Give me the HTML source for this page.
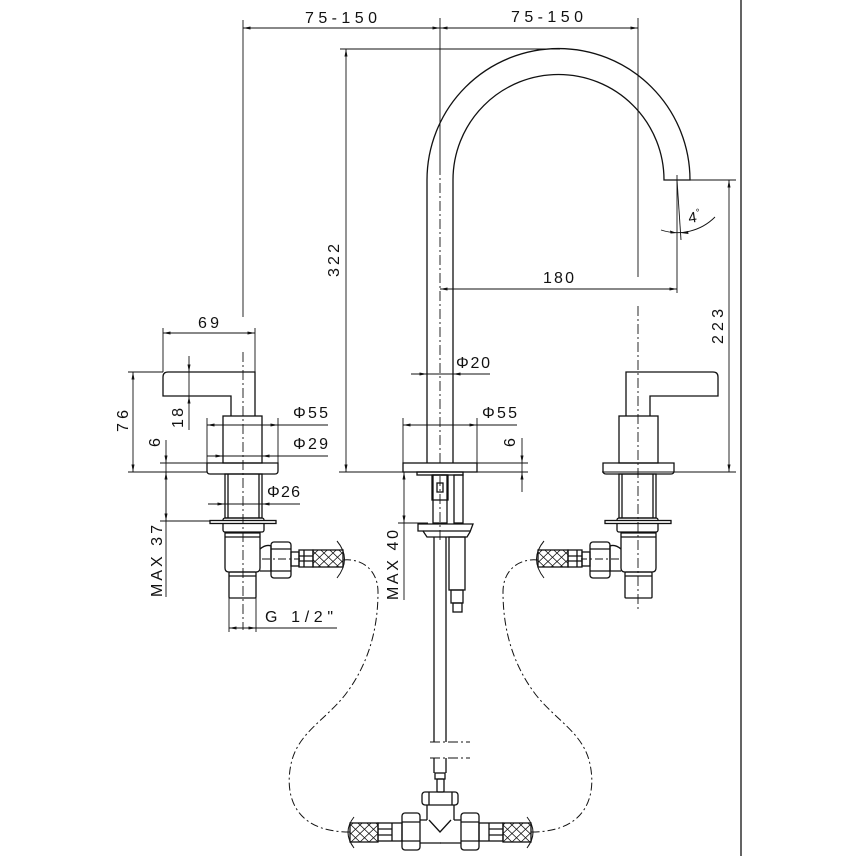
<!DOCTYPE html>
<html><head><meta charset="utf-8"><style>html,body{margin:0;padding:0;background:#fff;}svg{display:block;}text{font-family:"Liberation Sans",Arial,sans-serif;font-size:16px;fill:#111;}</style></head>
<body>
<svg width="856" height="856" viewBox="0 0 856 856" xmlns="http://www.w3.org/2000/svg">
<defs>
<marker id="ar" viewBox="0 0 10 4" refX="10" refY="2" markerWidth="8" markerHeight="3" markerUnits="userSpaceOnUse" orient="auto-start-reverse"><path d="M0,0L10,2L0,4z" fill="#111"/></marker>
<pattern id="xh" width="9" height="8.5" patternUnits="userSpaceOnUse" x="0" y="0.5"><path d="M0,0L9,8.5M9,0L0,8.5" stroke="#111" stroke-width="0.8" fill="none"/></pattern>
<g id="fix" fill="none" stroke="#111" stroke-width="1.3">
  <path d="M255,416 L255,372 L168,372 Q163,372 163,377 L163,396 L231,396 L231,416"/>
  <rect x="223" y="416" width="39" height="47"/>
  <path d="M207,463 L278,463 L278,471 Q278,474 275,474 L210,474 Q207,474 207,471 Z"/>
  <rect x="225" y="474" width="37" height="44"/>
  <path d="M228,474 L228,518 M259,474 L259,518"/>
  <rect x="223" y="518" width="41" height="14" rx="2"/>
  <rect x="210" y="520.5" width="66" height="3" fill="#fff"/>
  <path d="M225,533 L260,533 L260,568 Q260,572 256,572 L229,572 Q225,572 225,568 Z"/>
  <path d="M225,537 L260,537"/>
  <rect x="229" y="572" width="27" height="26" rx="1"/>
  <path d="M229,576 L256,576"/>
  <path d="M260,549 Q266,544 271,546 L271,571 L260,571"/>
  <rect x="271" y="542" width="20" height="36" rx="3"/>
  <path d="M271,549 L291,549 M271,571 L291,571"/>
  <rect x="291" y="552" width="8" height="14"/>
  <rect x="299" y="550" width="14" height="17"/>
  <path d="M299,556 L313,556 M299,561 L313,561 M304,550 L304,567"/>
  <rect x="313" y="550" width="30" height="17" fill="url(#xh)"/>
  <path d="M337,541 Q352,559 337,578" stroke-width="1"/>
  <path d="M262,559 L300,559" stroke-width="0.9" stroke-dasharray="8 3 2 3"/>
</g>
<g id="tee" fill="none" stroke="#111" stroke-width="1.3">
  <rect x="402" y="813" width="18" height="37" rx="3"/>
  <path d="M402,822 L420,822 M402,841 L420,841"/>
  <rect x="378" y="823" width="24" height="18"/>
  <path d="M392,823 L392,841 M378,829 L392,829 M378,835 L392,835"/>
  <rect x="350" y="823" width="28" height="19" fill="url(#xh)"/>
  <path d="M354,817 Q342,832 354,848" stroke-width="1"/>
  <path d="M420,820 L427,820 M420,843 L441,843"/>
</g>
<path id="loop" d="M343,560 C362,558 378,570 378,592 C378,630 368,665 345,695 C325,720 300,732 292,760 C284,790 290,832 350,832" fill="none" stroke="#111" stroke-width="1" stroke-dasharray="8 3 2 3"/>
</defs>

<line x1="741" y1="0" x2="741" y2="856" stroke="#111" stroke-width="1.3"/>

<use href="#fix"/>
<use href="#fix" transform="translate(881,0) scale(-1,1)"/>
<use href="#tee"/>
<use href="#tee" transform="translate(881,0) scale(-1,1)"/>
<use href="#loop"/>
<use href="#loop" transform="translate(881,0) scale(-1,1)"/>

<g fill="none" stroke="#111" stroke-width="1.3">
  <path d="M427,463 L427,180 A131.5,131.5 0 0 1 690,180 L664,180 A105.5,105.5 0 0 0 453,180 L453,463"/>
  <rect x="403" y="463" width="74" height="9"/>
  <rect x="417" y="472" width="46" height="3"/>
  <rect x="433" y="475" width="14" height="48"/>
  <rect x="432" y="475" width="16" height="25"/>
  <rect x="437" y="483" width="6" height="9"/>
  <rect x="454" y="475" width="9" height="48"/>
  <path d="M418,524 L473,524 L470,532 L467,537 L427,537 L423,531 L418,531 Z"/>
  <path d="M423,531 L470,531"/>
  <path d="M434,537 L434,742 M446,537 L446,742"/>
  <rect x="449" y="537" width="16" height="53"/>
  <rect x="451" y="590" width="12" height="13"/>
  <rect x="453" y="603" width="9" height="9"/>
  <path d="M434,758 L434,773 M446,758 L446,773"/>
  <rect x="435" y="773" width="10" height="6"/>
  <rect x="437" y="779" width="7" height="13" rx="1"/>
  <rect x="422" y="792" width="36" height="13" rx="3"/>
  <path d="M429,792 L429,805 M452,792 L452,805"/>
  <path d="M427,805 L427,820 M454,805 L454,820"/>
  <path d="M429,820 L440,832 L451,820"/>
</g>
<g fill="none" stroke="#111" stroke-width="0.9" stroke-dasharray="10 3 2 3">
  <path d="M430,742 L470,742 M430,758 L470,758"/>
  <path d="M440,165 L440,463 M440,476 L440,540"/>
  <path d="M243,352 L243,630"/>
  <path d="M638,306 L638,612"/>
</g>

<g fill="none" stroke="#111" stroke-width="0.9">
  <path d="M243,20 L243,317 M440,18 L440,165 M638,18 L638,277"/>
  <line x1="243" y1="28" x2="440" y2="28" marker-start="url(#ar)" marker-end="url(#ar)"/>
  <line x1="440" y1="28" x2="638" y2="28" marker-start="url(#ar)" marker-end="url(#ar)"/>
  <path d="M340,49 L560,49"/>
  <line x1="346" y1="49" x2="346" y2="472" marker-start="url(#ar)" marker-end="url(#ar)"/>
  <path d="M339,472 L528,472 M128,472 L207,472 M602,472 L736,472"/>
  <line x1="440" y1="289" x2="677" y2="289" marker-start="url(#ar)" marker-end="url(#ar)"/>
  <path d="M677,175 L677,293"/>
  <path d="M677,180 L681,240"/>
  <path d="M661,230 A53,53 0 0 0 715,217"/>
  <polygon points="677,233 670,230.5 670.5,233.5" fill="#111" stroke="none"/>
  <polygon points="681,233 688,231 688.5,234" fill="#111" stroke="none"/>
  <path d="M690,180 L736,180"/>
  <line x1="729" y1="180" x2="729" y2="472" marker-start="url(#ar)" marker-end="url(#ar)"/>
  <line x1="403" y1="425" x2="477" y2="425" marker-start="url(#ar)" marker-end="url(#ar)"/>
  <path d="M477,425 L517,425 M403,418 L403,463 M477,418 L477,463 M477,463 L528,463"/>
  <line x1="522" y1="438" x2="522" y2="463" marker-end="url(#ar)"/>
  <line x1="522" y1="492" x2="522" y2="472" marker-end="url(#ar)"/>
  <path d="M522,463 L522,472"/>
  <path d="M411,374 L490,374"/>
  <line x1="411" y1="374" x2="427" y2="374" marker-end="url(#ar)"/>
  <line x1="470" y1="374" x2="453" y2="374" marker-end="url(#ar)"/>
  <line x1="404" y1="472" x2="404" y2="523" marker-start="url(#ar)" marker-end="url(#ar)"/>
  <path d="M404,523 L404,600 M398,523 L428,523"/>
  <line x1="163" y1="333" x2="255" y2="333" marker-start="url(#ar)" marker-end="url(#ar)"/>
  <path d="M163,328 L163,372 M255,328 L255,372"/>
  <path d="M128,372 L163,372"/>
  <line x1="133" y1="372" x2="133" y2="472" marker-start="url(#ar)" marker-end="url(#ar)"/>
  <line x1="189" y1="356" x2="189" y2="372" marker-end="url(#ar)"/>
  <line x1="189" y1="430" x2="189" y2="396" marker-end="url(#ar)"/>
  <path d="M189,372 L189,396"/>
  <line x1="207" y1="425" x2="278" y2="425" marker-start="url(#ar)" marker-end="url(#ar)"/>
  <path d="M278,425 L328,425 M207,418 L207,463 M278,418 L278,463"/>
  <path d="M207,456 L328,456"/>
  <line x1="210" y1="456" x2="223" y2="456" marker-end="url(#ar)"/>
  <line x1="276" y1="456" x2="262" y2="456" marker-end="url(#ar)"/>
  <line x1="166" y1="440" x2="166" y2="463" marker-end="url(#ar)"/>
  <line x1="166" y1="472" x2="166" y2="521" marker-start="url(#ar)" marker-end="url(#ar)"/>
  <path d="M166,463 L166,597 M160,463 L207,463 M160,521 L210,521"/>
  <path d="M208,504 L300,504"/>
  <line x1="212" y1="504" x2="225" y2="504" marker-end="url(#ar)"/>
  <line x1="275" y1="504" x2="262" y2="504" marker-end="url(#ar)"/>
  <line x1="229" y1="628" x2="256" y2="628" marker-start="url(#ar)" marker-end="url(#ar)"/>
  <path d="M256,628 L337,628 M229,598 L229,632 M256,598 L256,632"/>
</g>

<text x="305" y="23" textLength="72" lengthAdjust="spacing">75-150</text>
<text x="511" y="22" textLength="72" lengthAdjust="spacing">75-150</text>
<text x="543" y="283" textLength="31" lengthAdjust="spacing">180</text>
<text x="198" y="328" textLength="21" lengthAdjust="spacing">69</text>
<text x="293" y="418" textLength="35" lengthAdjust="spacing">Φ55</text>
<text x="293" y="449" textLength="35" lengthAdjust="spacing">Φ29</text>
<text x="267" y="497" textLength="33" lengthAdjust="spacing">Φ26</text>
<text x="265" y="622" textLength="68" lengthAdjust="spacing">G 1/2"</text>
<text x="456" y="368" textLength="34" lengthAdjust="spacing">Φ20</text>
<text x="482" y="418" textLength="35" lengthAdjust="spacing">Φ55</text>
<text transform="translate(339,277) rotate(-90)" textLength="33" lengthAdjust="spacing">322</text>
<text transform="translate(723,344) rotate(-90)" textLength="35" lengthAdjust="spacing">223</text>
<text transform="translate(128,432) rotate(-90)" textLength="22" lengthAdjust="spacing">76</text>
<text transform="translate(183,428) rotate(-90)" textLength="20" lengthAdjust="spacing">18</text>
<text transform="translate(160,447) rotate(-90)">6</text>
<text transform="translate(162,597) rotate(-90)" textLength="72" lengthAdjust="spacing">MAX 37</text>
<text transform="translate(515,447) rotate(-90)">6</text>
<text transform="translate(398,600) rotate(-90)" textLength="70" lengthAdjust="spacing">MAX 40</text>
<text transform="translate(689,223) rotate(-8)" style="font-size:15px">4<tspan dy="-6" style="font-size:10px">°</tspan></text>
</svg>
</body></html>
